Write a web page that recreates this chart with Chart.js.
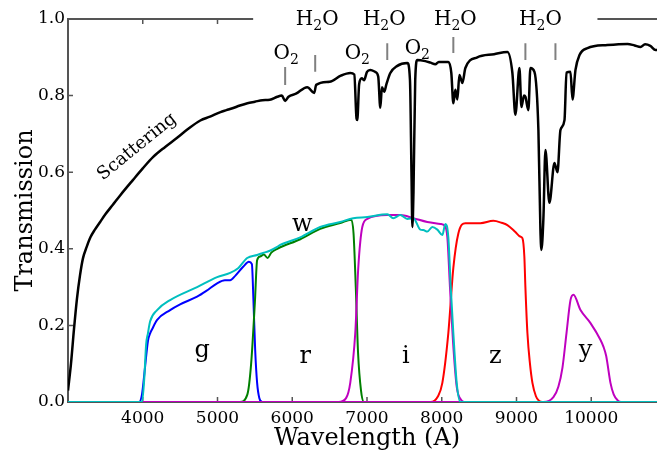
<!DOCTYPE html>
<html>
<head>
<meta charset="UTF-8">
<title>Transmission</title>
<script src="https://cdn.jsdelivr.net/npm/chart.js@4/dist/chart.umd.min.js"></script>
<style>
  body { margin: 0; background: #fff; }
  #wrap { width: 657px; height: 450px; overflow: hidden; }
</style>
</head>
<body>
<div id="wrap"><canvas id="chart" width="680" height="450"></canvas></div>
<script>
// atmosphere (black)
const atmWave = [3000, 3040, 3080, 3120, 3160, 3200, 3250, 3300, 3360, 3430, 3500, 3600, 3700, 3870, 4000, 4140, 4300, 4460, 4600, 4770,
  4900, 5040, 5120, 5200, 5300, 5400, 5500, 5600, 5700, 5800, 5860, 5905, 5950, 6050, 6200, 6294, 6320, 6500, 6650, 6776,
  6830, 6860, 6870, 6895, 6930, 6960, 7000, 7044, 7110, 7150, 7178, 7200, 7230, 7260, 7312, 7400, 7540,
  7575, 7595, 7607, 7622, 7645, 7673, 7780, 7850, 7914, 7960, 8088, 8128, 8155, 8182, 8209, 8236, 8276,
  8316, 8476, 8700, 8878, 8945, 8985, 9039, 9066, 9100, 9119, 9159, 9186, 9240, 9293, 9320, 9333, 9360,
  9387, 9440, 9508, 9548, 9588, 9642, 9669, 9722, 9749, 9789, 9843, 9950, 10217, 10485, 10580, 10659,
  10720, 10790, 10860, 10940, 11000];
const atmTrans = [0.03, 0.10, 0.19, 0.27, 0.33, 0.375, 0.405, 0.43, 0.45, 0.47, 0.49, 0.515, 0.54, 0.58, 0.61, 0.64, 0.666, 0.69, 0.712, 0.735,
  0.745, 0.757, 0.762, 0.767, 0.774, 0.78, 0.784, 0.788, 0.789, 0.797, 0.80, 0.786, 0.797, 0.805, 0.822, 0.807, 0.828, 0.836, 0.852, 0.859,
  0.855, 0.74, 0.736, 0.83, 0.845, 0.84, 0.862, 0.867, 0.862, 0.85, 0.768, 0.822, 0.81, 0.83, 0.859, 0.877, 0.885,
  0.84, 0.60, 0.457, 0.55, 0.84, 0.893, 0.89, 0.886, 0.882, 0.888, 0.888, 0.859, 0.78, 0.815, 0.79, 0.854, 0.833,
  0.872, 0.90, 0.908, 0.914, 0.859, 0.75, 0.872, 0.77, 0.80, 0.797, 0.762, 0.872, 0.862, 0.71, 0.45, 0.397, 0.48,
  0.658, 0.52, 0.624, 0.60, 0.71, 0.736, 0.86, 0.862, 0.79, 0.867, 0.906, 0.924, 0.932, 0.935, 0.931, 0.927,
  0.934, 0.93, 0.919, 0.922, 0.918];

// filters
const gWave = [3000, 3950, 3990, 4030, 4070, 4100, 4125, 4190, 4366, 4500, 4727, 4850, 4995, 5100, 5169, 5240, 5343, 5420, 5460, 5480, 5504, 5530, 5560, 5600, 11000];
const gTrans = [0, 0, 0.02, 0.09, 0.16, 0.18, 0.19, 0.214, 0.24, 0.255, 0.275, 0.29, 0.31, 0.318, 0.318, 0.33, 0.353, 0.366, 0.36, 0.27, 0.136, 0.05, 0.01, 0, 0];

const rWave = [3000, 5300, 5400, 5450, 5500, 5530, 5570, 5620, 5670, 5720, 5800, 6107, 6374, 6642, 6790, 6820, 6850, 6880, 6920, 6960, 11000];
const rTrans = [0, 0, 0.02, 0.1, 0.26, 0.37, 0.38, 0.385, 0.376, 0.39, 0.40, 0.425, 0.452, 0.467, 0.476, 0.44, 0.30, 0.13, 0.03, 0, 0];

const iWave = [3000, 6620, 6720, 6776, 6843, 6883, 6937, 7004, 7272, 7446, 7620, 7807, 7982, 8040, 8075, 8110, 8150, 8200, 8260, 8300, 11000];
const iTrans = [0, 0, 0.01, 0.05, 0.18, 0.35, 0.457, 0.478, 0.488, 0.488, 0.48, 0.47, 0.465, 0.46, 0.43, 0.30, 0.16, 0.04, 0.005, 0, 0];

const zWave = [3000, 7850, 7950, 8008, 8088, 8155, 8222, 8316, 8516, 8690, 8800, 8878, 8985, 9050, 9079, 9105, 9119, 9146, 9180, 9213, 9260, 9300, 9350, 11000];
const zTrans = [0, 0, 0.015, 0.05, 0.18, 0.35, 0.44, 0.467, 0.467, 0.473, 0.468, 0.462, 0.444, 0.432, 0.428, 0.38, 0.30, 0.18, 0.10, 0.05, 0.015, 0.003, 0, 0];

const yWave = [3000, 9360, 9494, 9560, 9615, 9669, 9722, 9762, 9856, 9990, 10124, 10164, 10200, 10217, 10257, 10300, 10351, 10400, 11000];
const yTrans = [0, 0, 0.013, 0.04, 0.09, 0.18, 0.266, 0.28, 0.24, 0.206, 0.162, 0.144, 0.12, 0.1, 0.05, 0.02, 0.005, 0, 0];

const wWave = [3000, 3990, 4020, 4045, 4070, 4098, 4192, 4366, 4727, 4995, 5169, 5280, 5397, 5530, 5610, 5700, 5798, 5839, 6107, 6374,
  6642, 6816, 7004, 7272, 7352, 7446, 7539, 7620, 7714, 7753, 7807, 7874, 7941, 8008, 8048, 8088, 8120, 8155, 8200, 8250, 11000];
const wTrans = [0, 0, 0.06, 0.15, 0.18, 0.21, 0.24, 0.266, 0.30, 0.326, 0.337, 0.35, 0.376, 0.384, 0.389, 0.395, 0.405, 0.41, 0.43, 0.457,
  0.47, 0.48, 0.483, 0.49, 0.48, 0.488, 0.478, 0.48, 0.45, 0.449, 0.445, 0.457, 0.45, 0.436, 0.465, 0.43, 0.30, 0.18, 0.05, 0, 0];

// axis ticks
const xTicks = [4000, 5000, 6000, 7000, 8000, 9000, 10000];
const yTicks = [0, 0.2, 0.4, 0.6, 0.8, 1.0];

// text annotations
const bandNames = ['g', 'r', 'i', 'z', 'y', 'w'];
const bandX = [4794, 6173, 7519, 8718, 9923, 6133];
const bandY = [0.117, 0.102, 0.102, 0.102, 0.117, 0.446];

const molNames = ['O2', 'H2O', 'O2', 'H2O', 'O2', 'H2O', 'H2O'];
const molX = [5919, 6334, 6870, 7231, 7673, 8182, 9320];
const molY = [0.896, 0.984, 0.896, 0.984, 0.909, 0.984, 0.984];

const markX = [5905, 6307, 7271, 8155, 9119, 9521];
const markLo = [0.828, 0.862, 0.893, 0.911, 0.893, 0.893];
const markHi = [0.875, 0.906, 0.937, 0.953, 0.937, 0.937];

const topGap = [5477, 10083];

const serif = 'DejaVu Serif';

function pts(w, t) { return w.map((x, i) => ({x: x, y: t[i]})); }

function line(label, w, t, color, width, order) {
  return {label: label, data: pts(w, t), borderColor: color, borderWidth: width,
    pointRadius: 0, cubicInterpolationMode: 'monotone', fill: false, order: order};
}

function drawMol(ctx, name, cx, base) {
  // name like 'H2O' or 'O2': digit goes subscript
  const parts = name.split(/(\d)/).filter(s => s.length);
  const big = '20px ' + serif, small = '14px ' + serif;
  let total = 0;
  parts.forEach(p => { ctx.font = /\d/.test(p) ? small : big; total += ctx.measureText(p).width; });
  let x = cx - total / 2;
  parts.forEach(p => {
    const sub = /\d/.test(p);
    ctx.font = sub ? small : big;
    ctx.fillText(p, x, sub ? base + 5 : base);
    x += ctx.measureText(p).width;
  });
}

const decor = {
  id: 'decor',
  beforeDatasetsDraw(chart) {
    const {ctx, chartArea: a, scales: {x, y}} = chart;
    ctx.save();
    ctx.strokeStyle = '#555';
    ctx.lineWidth = 2;
    ctx.beginPath();
    ctx.moveTo(a.left, a.top);
    ctx.lineTo(a.left, a.bottom);
    ctx.lineTo(a.right, a.bottom);
    ctx.moveTo(a.left - 1, a.top);
    ctx.lineTo(x.getPixelForValue(topGap[0]), a.top);
    ctx.moveTo(x.getPixelForValue(topGap[1]), a.top);
    ctx.lineTo(a.right, a.top);
    ctx.stroke();
    ctx.lineWidth = 1.5;
    ctx.beginPath();
    xTicks.forEach(v => {
      const px = x.getPixelForValue(v);
      ctx.moveTo(px, a.bottom); ctx.lineTo(px, a.bottom - 5);
      if (v < topGap[0] || v > topGap[1]) { ctx.moveTo(px, a.top); ctx.lineTo(px, a.top + 5); }
    });
    yTicks.forEach(v => {
      const py = y.getPixelForValue(v);
      ctx.moveTo(a.left, py); ctx.lineTo(a.left + 5, py);
    });
    ctx.stroke();
    ctx.restore();
  },
  afterDatasetsDraw(chart) {
    const {ctx, scales: {x, y}} = chart;
    ctx.save();
    // little marker lines for the absorption bands
    ctx.strokeStyle = '#808080';
    ctx.lineWidth = 2;
    ctx.beginPath();
    markX.forEach((v, i) => {
      const px = x.getPixelForValue(v);
      ctx.moveTo(px, y.getPixelForValue(markLo[i]));
      ctx.lineTo(px, y.getPixelForValue(markHi[i]));
    });
    ctx.stroke();

    ctx.fillStyle = '#000';
    ctx.textBaseline = 'alphabetic';
    ctx.textAlign = 'left';
    molNames.forEach((m, i) => drawMol(ctx, m, x.getPixelForValue(molX[i]), y.getPixelForValue(molY[i])));

    ctx.textAlign = 'center';
    ctx.font = '24px ' + serif;
    bandNames.forEach((b, i) => ctx.fillText(b, x.getPixelForValue(bandX[i]), y.getPixelForValue(bandY[i])));

    ctx.font = '18px ' + serif;
    ctx.textBaseline = 'middle';
    ctx.translate(x.getPixelForValue(3924), y.getPixelForValue(0.666));
    ctx.rotate(-39 * Math.PI / 180);
    ctx.fillText('Scattering', 0, 0);
    ctx.restore();
  }
};

new Chart(document.getElementById('chart'), {
  type: 'line',
  data: {
    datasets: [
      line('atmosphere', atmWave, atmTrans, '#000000', 2.5, 0),
      line('w', wWave, wTrans, '#00bfbf', 2, 1),
      line('i', iWave, iTrans, '#bf00bf', 2, 2),
      line('y', yWave, yTrans, '#bf00bf', 2, 3),
      line('z', zWave, zTrans, '#ff0000', 2, 4),
      line('r', rWave, rTrans, '#008000', 2, 5),
      line('g', gWave, gTrans, '#0000ff', 2, 6)
    ]
  },
  options: {
    responsive: false,
    animation: false,
    layout: {padding: {left: 0, top: 19, right: 14, bottom: 0}},
    plugins: {legend: {display: false}, tooltip: {enabled: false}},
    scales: {
      x: {
        type: 'linear', min: 3000, max: 11000,
        grid: {display: false, drawTicks: false},
        border: {display: false},
        ticks: {stepSize: 1000, padding: 6, color: '#000', font: {family: serif, size: 17},
          callback: v => (v === 3000 || v === 11000) ? '' : String(v)},
        title: {display: true, text: 'Wavelength (A)', color: '#000', padding: 0,
          font: {family: serif, size: 24, lineHeight: 0.9}},
        afterFit: s => { s.height = 48; }
      },
      y: {
        min: 0, max: 1,
        grid: {display: false, drawTicks: false},
        border: {display: false},
        ticks: {stepSize: 0.2, padding: 3, color: '#000', font: {family: serif, size: 17},
          callback: v => v.toFixed(1)},
        title: {display: true, text: 'Transmission', color: '#000', padding: {top: 15, bottom: 0},
          font: {family: serif, size: 24, lineHeight: 0.9}},
        afterFit: s => { s.width = 68; }
      }
    }
  },
  plugins: [decor]
});
</script>
</body>
</html>
